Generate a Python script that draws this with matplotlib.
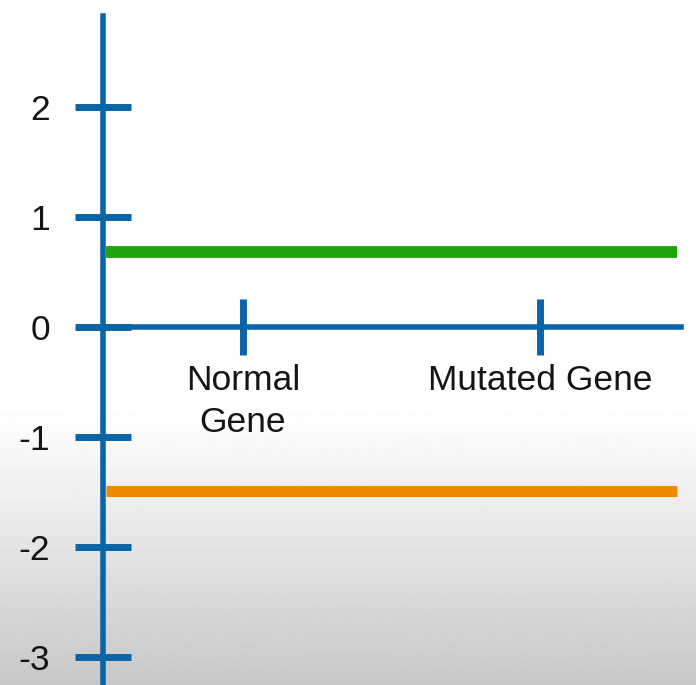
import numpy as np
import matplotlib
matplotlib.use('Agg')
import matplotlib.pyplot as plt

# Categories on the x axis and the two horizontal levels
categories = ["Normal\nGene", "Mutated Gene"]
cat_pos = [1, 2]
y_ticks = [2, 1, 0, -1, -2, -3]
levels = [0.68, -1.49]
level_colors = ["#1fa40c", "#ef8a02"]

AXIS_BLUE = "#0b63a8"
W, H = 696, 685

# pixel -> data helpers (axes cover the whole figure)
px_per_x = 297.0
px_per_y = 110.0
def xd(px):
    return 1 + (px - 243) / px_per_x
def yd(py):
    return (327 - py) / px_per_y

fig = plt.figure(figsize=(W / 100, H / 100), dpi=100)

# background: white top, soft gray gradient lower down
bg = fig.add_axes([0, 0, 1, 1])
rows = np.arange(H, dtype=float)
t = np.clip((rows - 405) / (H - 405), 0, 1)
shade = 1.0 - 0.22 * (t ** 1.1)
img = np.repeat(shade[:, None], 2, axis=1)
bg.imshow(img, cmap="gray", vmin=0, vmax=1, aspect="auto", extent=[0, 1, 0, 1])
bg.axis("off")

ax = fig.add_axes([0, 0, 1, 1])
ax.patch.set_alpha(0)
ax.set_xlim(xd(0), xd(W))
ax.set_ylim(yd(H), yd(0))

for lvl, col, lw in zip(levels, level_colors, [8.5, 8.0]):
    ax.hlines(lvl, xd(106), xd(677), colors=col, linewidth=lw, zorder=2)

ax.spines["top"].set_visible(False)
ax.spines["right"].set_visible(False)
ax.spines["left"].set_position(("data", xd(103)))
ax.spines["bottom"].set_position(("data", 0))
ax.spines["left"].set_bounds(yd(H), yd(16))
ax.spines["bottom"].set_bounds(xd(103), xd(681))
for s in ["left", "bottom"]:
    ax.spines[s].set_color(AXIS_BLUE)
    ax.spines[s].set_linewidth(4.0)
    ax.spines[s].set_zorder(3)

ax.set_yticks(y_ticks)
ax.set_yticklabels([str(t) for t in y_ticks])
ax.set_xticks(cat_pos)
ax.set_xticklabels(categories, linespacing=1.32)

ax.tick_params(axis="both", direction="inout", length=40, width=5,
               color=AXIS_BLUE, labelsize=25.5, labelcolor="#151515")
ax.tick_params(axis="y", pad=18)
ax.tick_params(axis="x", pad=7)
for lab in ax.get_xticklabels() + ax.get_yticklabels():
    lab.set_family(["Liberation Sans", "DejaVu Sans"])

fig.savefig("out.png", dpi=100)
plt.close(fig)
